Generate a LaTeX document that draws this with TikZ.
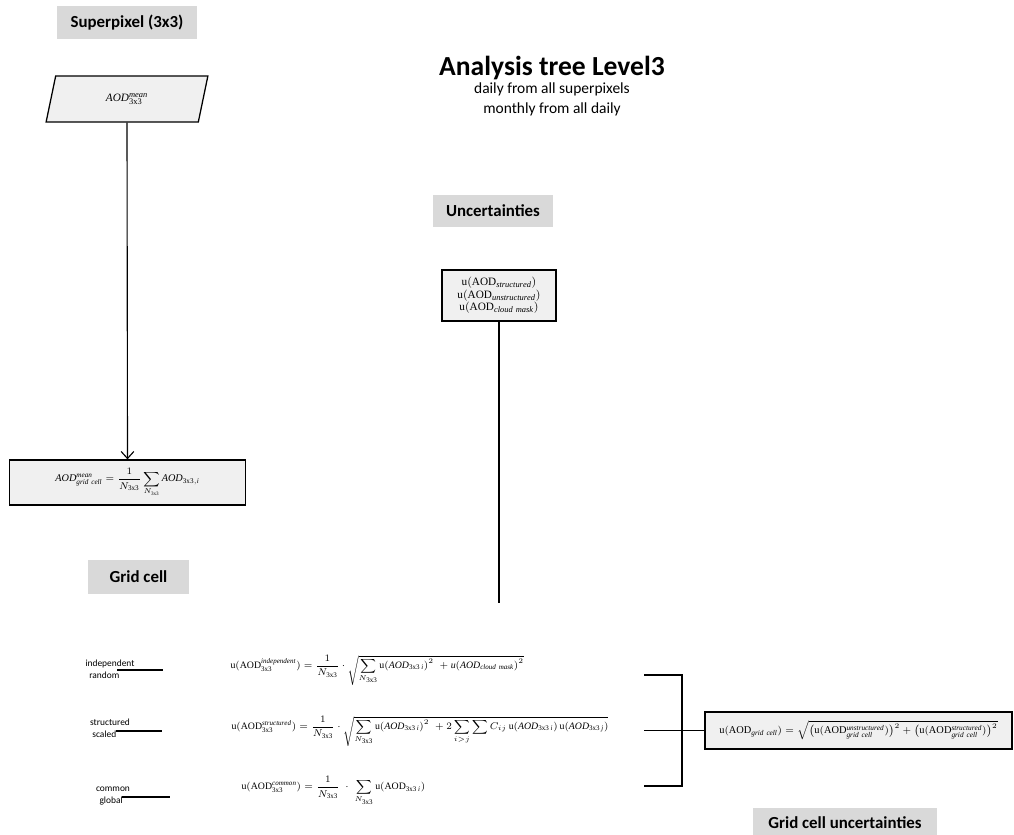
\documentclass[tikz,border=0pt]{standalone}
\usepackage{amsmath,amssymb}
\usepackage{fontspec}
\setmainfont{Carlito}
\setmathrm{Liberation Serif}
\usetikzlibrary{shapes.geometric,arrows.meta}

\newcommand{\ai}[1]{\mathit{#1}}
\newcommand{\tx}{\mathrm{3x3}}

\tikzset{
  tag/.style={fill=gray!30,inner sep=0pt,font=\bfseries\fontsize{12}{14}\selectfont},
  box/.style={draw,fill=gray!12,line width=0.9pt,inner sep=0pt},
  kind/.style={align=center,font=\fontsize{6.7}{8.5}\selectfont},
  eq/.style={inner sep=0pt,font=\fontsize{7}{8}\selectfont},
}

\begin{document}
\begin{tikzpicture}[x=0.025cm,y=-0.025cm,line width=0.8pt]
\useasboundingbox (0,0) rectangle (1014,835);
%%%%%%%%%%%%%%%%%%%%%%%%%%%%%%%%
%% titles
%%%%%%%%%%%%%%%%%%%%%%%%%%%%%%%%
\node (title) at (552,68) {\bfseries\fontsize{19.6}{22}\selectfont Analysis tree Level3};
\node[align=center,font=\fontsize{11}{14}\selectfont] (sub) at (552,99.5) {daily from all superpixels\\monthly from all daily};

\node[tag,minimum width=3.5cm,minimum height=0.825cm] (sp) at (127,22.5) {Superpixel (3x3)};
\node[tag,minimum width=3cm,minimum height=0.8cm] (unc) at (493,211) {Uncertainties};
\node[tag,minimum width=2.525cm,minimum height=0.85cm] (gc) at (138.5,577) {Grid cell};
\node[tag,minimum width=4.6cm,minimum height=0.75cm] (gcu) at (845,823) {Grid cell uncertainties};
%%%%%%%%%%%%%%%%%%%%%%%%%%%%%%%%
%% superpixel branch
%%%%%%%%%%%%%%%%%%%%%%%%%%%%%%%%
\node[box,trapezium,trapezium stretches=true,trapezium left angle=76.5,trapezium right angle=103.5,
      minimum width=4.05cm,minimum height=1.15cm,font=\fontsize{8}{9}\selectfont] (par) at (127,99)
      {$\ai{AOD}^{\ai{mean}}_{\tx}$};
\node[box,minimum width=5.9cm,minimum height=1.125cm,font=\fontsize{7.3}{9}\selectfont] (gm) at (127.5,482.5)
      {$\ai{AOD}^{\ai{mean}}_{\ai{grid\;cell}}=\dfrac{1}{N_{\tx}}\displaystyle\sum_{N_{\tx}}\ai{AOD}_{\tx,\ai{i}}$};
\draw[-{Straight Barb[length=5pt,width=9pt]}] (par.south) -- (gm.north);
%%%%%%%%%%%%%%%%%%%%%%%%%%%%%%%%
%% uncertainty branch
%%%%%%%%%%%%%%%%%%%%%%%%%%%%%%%%
\node[box,minimum width=2.85cm,minimum height=1.275cm,align=center,font=\fontsize{8}{9}\selectfont] (ub) at (499,295.5)
      {$\mathrm{u}(\mathrm{AOD}_{\ai{structured}})$\\$\mathrm{u}(\mathrm{AOD}_{\ai{unstructured}})$\\$\mathrm{u}(\mathrm{AOD}_{\ai{cloud\;mask}})$};
\coordinate (uend) at (499,603);
\draw (ub.south) -- (uend);
%
\node[kind] (ind) at (110,669) {independent\\\hspace*{-1.2em}random};
\node[kind] (str) at (110,728) {structured\\\hspace*{-1.2em}scaled};
\node[kind] (com) at (113,796) {common\\\hspace*{-0.4em}global};
\coordinate (ind1) at (117,670); \coordinate (ind2) at (163,670);
\coordinate (str1) at (116,731); \coordinate (str2) at (162,731);
\coordinate (com1) at (122,797); \coordinate (com2) at (170,797);
\draw (ind1) -- (ind2);
\draw (str1) -- (str2);
\draw (com1) -- (com2);

\node[eq,anchor=west] (eq1) at (230,670)
  {$\mathrm{u}(\mathrm{AOD}^{\ai{independent}}_{\tx})=\dfrac{1}{N_{\tx}}\cdot\sqrt{\displaystyle\sum_{N_{\tx}}\mathrm{u}(\ai{AOD}_{\tx\,\ai{i}})^2\;+\ai{u}(\ai{AOD}_{\ai{cloud\;mask}})^2}$};
\node[eq,anchor=west] (eq2) at (231,731)
  {$\mathrm{u}(\mathrm{AOD}^{\ai{structured}}_{\tx})=\dfrac{1}{N_{\tx}}\cdot\sqrt{\displaystyle\sum_{N_{\tx}}\mathrm{u}(\ai{AOD}_{\tx\,\ai{i}})^2\;+2\sum_{i>j}\sum C_{ij}\,\mathrm{u}(\ai{AOD}_{\tx\,\ai{i}})\,\mathrm{u}(\ai{AOD}_{\tx\,\ai{j}})}$};
\node[eq,anchor=west] (eq3) at (241,791)
  {$\mathrm{u}(\mathrm{AOD}^{\ai{common}}_{\tx})=\dfrac{1}{N_{\tx}}\;\cdot\;\displaystyle\sum_{N_{\tx}}\mathrm{u}(\mathrm{AOD}_{\tx\,\ai{i}})$};
%%%%%%%%%%%%%%%%%%%%%%%%%%%%%%%%
%% combination
%%%%%%%%%%%%%%%%%%%%%%%%%%%%%%%%
\node[box,minimum width=7.675cm,minimum height=0.925cm,font=\fontsize{7.4}{8}\selectfont] (tot) at (858.5,730.5)
  {$\mathrm{u}(\mathrm{AOD}_{\ai{grid\;cell}})=\sqrt{\bigl(\mathrm{u}(\mathrm{AOD}^{\ai{unstructured}}_{\ai{grid\;cell}})\bigr)^2+\bigl(\mathrm{u}(\mathrm{AOD}^{\ai{structured}}_{\ai{grid\;cell}})\bigr)^2}$};
\coordinate (b1) at (644,675); \coordinate (b2) at (682,675);
\coordinate (b3) at (682,786); \coordinate (b4) at (644,786);
\coordinate (b5) at (644,730.5); \coordinate (b6) at (682,730.5);
\draw (b1) -- (b2) -- (b3) -- (b4);
\draw (b5) -- (tot.west);
\end{tikzpicture}
\end{document}
